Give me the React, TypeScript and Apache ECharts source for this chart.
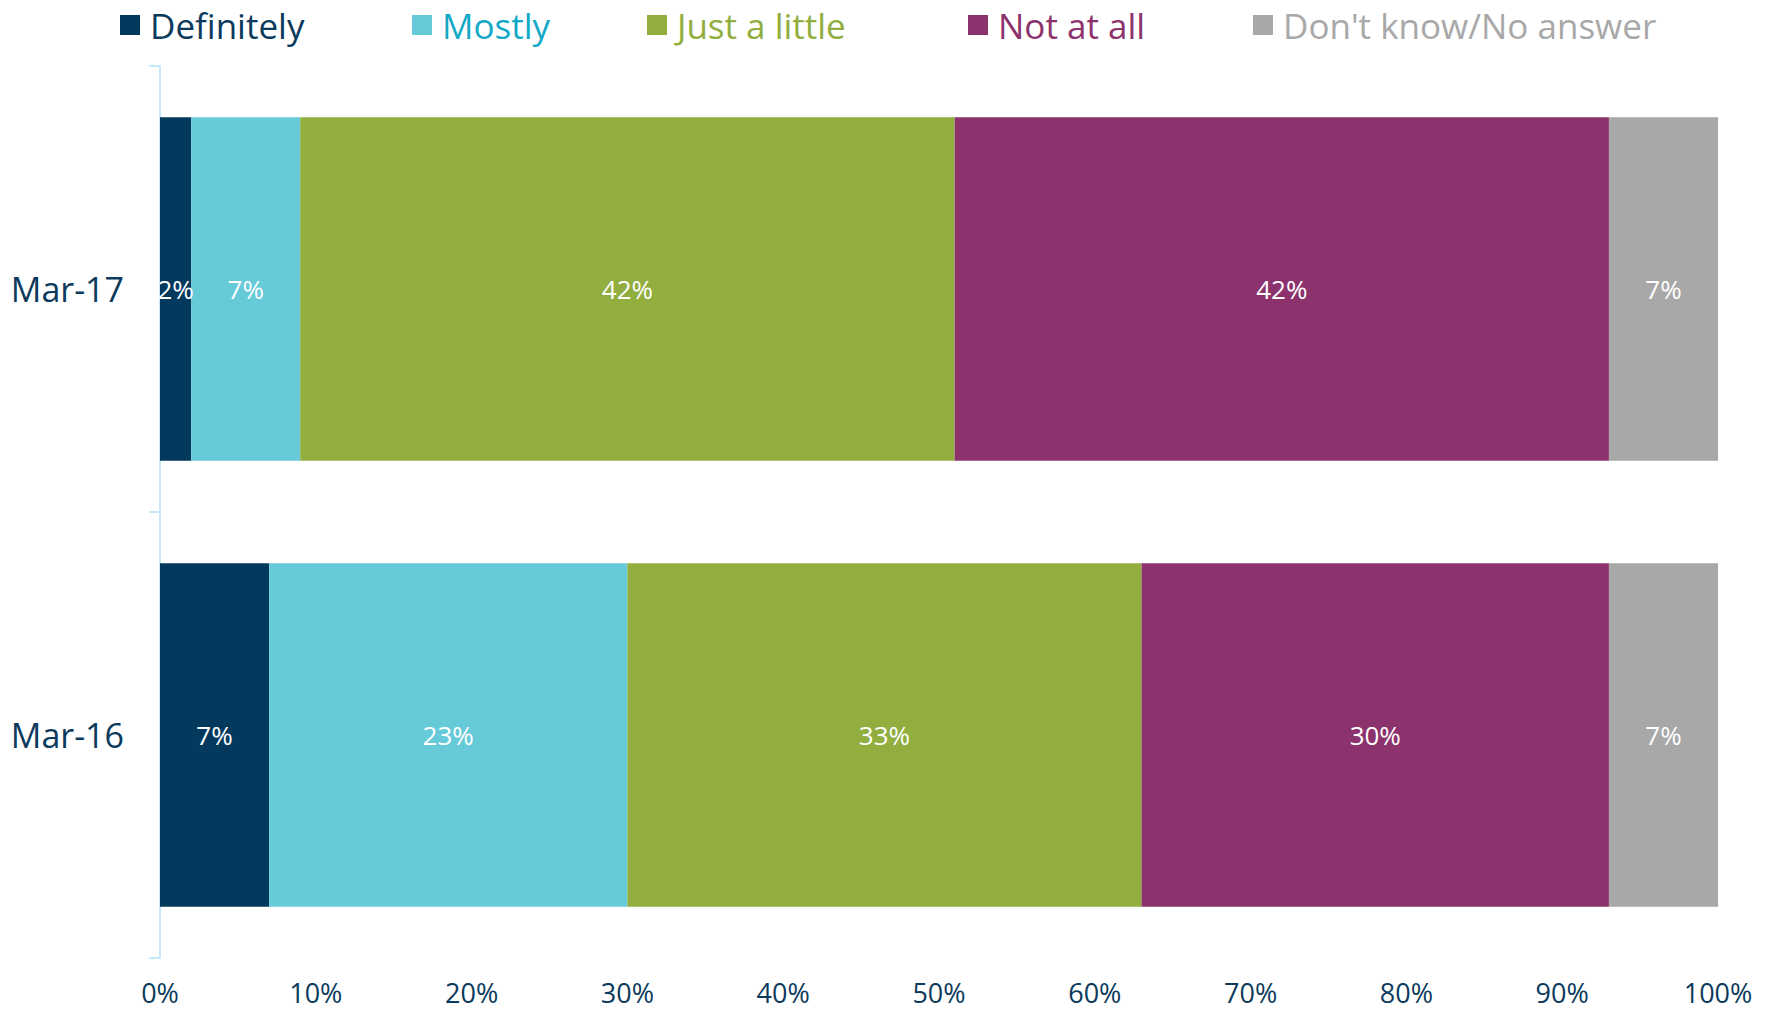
import React, { useEffect, useRef } from "react";
import * as echarts from "echarts";

const categories = ["Mar-16", "Mar-17"];
const seriesNames = ["Definitely", "Mostly", "Just a little", "Not at all", "Don't know/No answer"];
const definitely = [7, 2];
const mostly = [23, 7];
const justALittle = [33, 42];
const notAtAll = [30, 42];
const dontKnow = [7, 7];
const xTicks = [0, 10, 20, 30, 40, 50, 60, 70, 80, 90, 100];

const barColors = ["#04395E", "#67CAD9", "#91AE3F", "#8C326D", "#A8A8A8"];
const legendTextColors = ["#0B3A5C", "#14A9C6", "#91AE3F", "#8C326D", "#A8A8A8"];
const legendLefts = [120, 412, 647, 968, 1253];
const FONT = "'Open Sans', 'Liberation Sans', sans-serif";

export default function App() {
  const ref = useRef<HTMLDivElement>(null);
  useEffect(() => {
    if (!ref.current) return;
    const chart = echarts.init(ref.current, null, { renderer: "svg" });
    const values = [definitely, mostly, justALittle, notAtAll, dontKnow];
    const option = {
      animation: false,
      backgroundColor: "#ffffff",
      textStyle: { fontFamily: FONT },
      legend: seriesNames.map((name, i) => ({
        data: [name],
        left: legendLefts[i],
        top: 5,
        padding: 0,
        icon: "rect",
        itemWidth: 20,
        itemHeight: 20,
        selectedMode: false,
        textStyle: {
          color: legendTextColors[i],
          fontSize: 35,
          fontFamily: FONT,
          lineHeight: 40,
          padding: [0, 0, 0, 5],
        },
      })),
      grid: { left: 160, right: 54, top: 66, bottom: 53, containLabel: false },
      xAxis: {
        type: "value",
        min: xTicks[0],
        max: xTicks[xTicks.length - 1],
        interval: 10,
        axisLine: { show: false },
        axisTick: { show: false },
        splitLine: { show: false },
        axisLabel: {
          formatter: "{value}%",
          color: "#0B3A5C",
          fontSize: 27,
          fontFamily: FONT,
          margin: 21,
        },
      },
      yAxis: {
        type: "category",
        data: categories,
        axisLine: { show: true, lineStyle: { color: "#C5E8FA", width: 2 } },
        axisTick: { show: true, length: 11, lineStyle: { color: "#C5E8FA", width: 2 } },
        axisLabel: { color: "#0B3A5C", fontSize: 34, fontFamily: FONT, margin: 36 },
      },
      series: seriesNames.map((name, i) => ({
        name,
        type: "bar",
        stack: "total",
        barCategoryGap: "23%",
        data: values[i],
        itemStyle: { color: barColors[i] },
        label: {
          show: true,
          position: "inside",
          formatter: "{c}%",
          color: "#ffffff",
          fontSize: 26,
          fontFamily: FONT,
        },
      })),
    };
    chart.setOption(option);
    return () => chart.dispose();
  }, []);
  return (
    <div
      ref={ref}
      style={{ width: 1772, height: 1011, position: "absolute", left: 0, top: 0 }}
    />
  );
}
